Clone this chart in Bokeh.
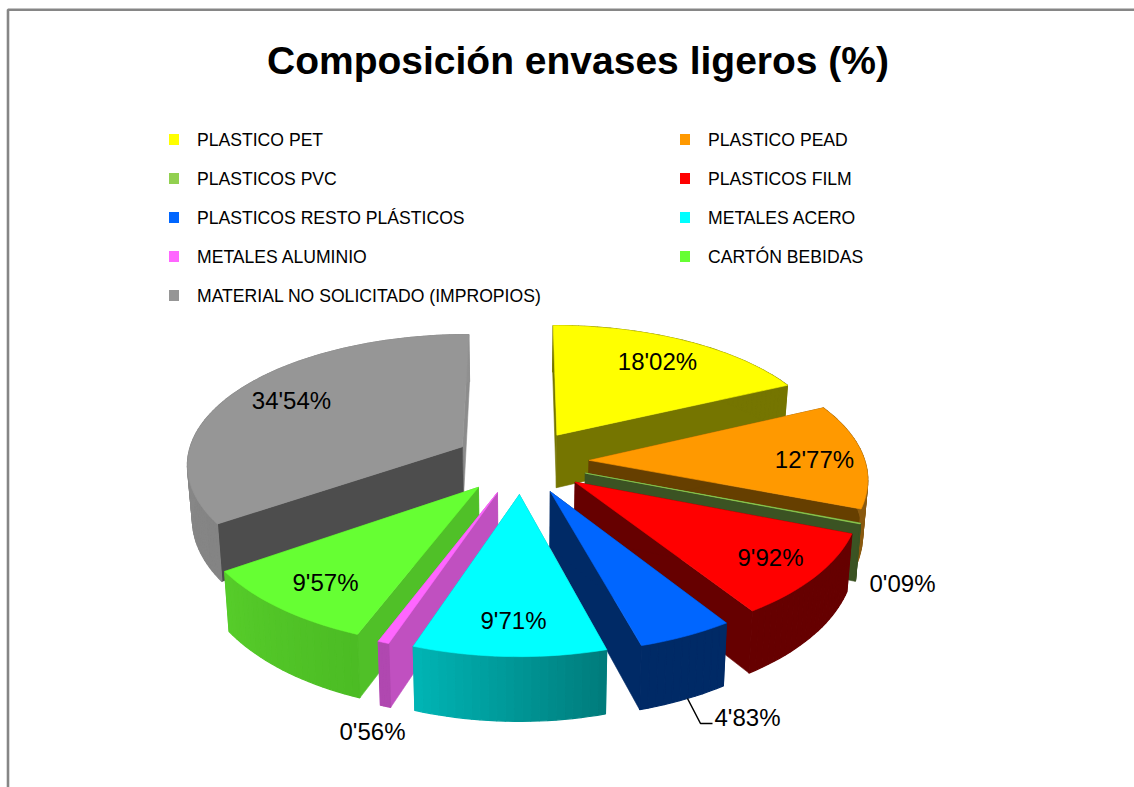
from math import radians, sin, cos
from bokeh.plotting import figure
from bokeh.embed import file_html
from bokeh.resources import INLINE
from bokeh.core.properties import value

TITLE = "Composición envases ligeros (%)"
CATEGORIES = ["PLASTICO PET", "PLASTICO PEAD", "PLASTICOS PVC", "PLASTICOS FILM",
              "PLASTICOS RESTO PLÁSTICOS", "METALES ACERO", "METALES ALUMINIO",
              "CARTÓN BEBIDAS", "MATERIAL NO SOLICITADO (IMPROPIOS)"]
VALUES = [18.02, 12.77, 0.09, 9.92, 4.83, 9.71, 0.56, 9.57, 34.54]
LABELS = ["18'02%", "12'77%", "0'09%", "9'92%", "4'83%", "9'71%", "0'56%", "9'57%", "34'54%"]

TOP_COLORS = ["#ffff00", "#ff9900", "#92d050", "#ff0000", "#0066ff", "#00ffff", "#ff66ff", "#66ff33", "#969696"]
CUT_COLORS = ["#757500", "#663f00", "#3b5323", "#660000", "#002a66", "#00a0a0", "#c050c0", "#50c028", "#4d4d4d"]
CUT_END_COLORS = ["#757500", "#663f00", "#3b5323", "#660000", "#002a66", "#00a0a0", "#c050c0", "#50c028", "#8c8c8c"]
RIM_LEFT = ["#757500", "#8a5a10", "#3b5323", "#660000", "#002a66", "#00b4b4", "#b048b0", "#56cc2a", "#909090"]
RIM_RIGHT = ["#757500", "#8a5a10", "#3b5323", "#660000", "#002a66", "#007c7c", "#b048b0", "#4cbc24", "#848484"]

LABEL_X = [657, 814, 902, 770, 747, 513, 372, 325, 291]
LABEL_Y = [361, 459, 583, 557, 717, 620, 731, 582, 400]
DRAW_ORDER = [0, 8, 1, 2, 3, 4, 7, 6, 5]

# projection of the exploded 3-D pie
CX, CY, A, B, K, KX, EXPLODE, DEPTH, TAPER = 521, 461, 276, 130.8, 0.133, 0.12, 0.245, 54, 0.985


def project(th, r, mid, low=False):
    X = r * sin(th) + EXPLODE * sin(mid)
    V = r * cos(th) + EXPLODE * cos(mid)
    p = 1 / (1 + K * V)
    dx = A * X / (1 + KX * V)
    y = CY - B * V * p
    if low:
        return CX + dx * TAPER, y + DEPTH * p
    return CX + dx, y


p = figure(width=1134, height=787, x_range=(0, 1134), y_range=(787, 0),
           output_backend="svg", toolbar_location=None, min_border=0,
           outline_line_color=None, background_fill_color="white")
p.axis.visible = False
p.xgrid.visible = False
p.ygrid.visible = False

# frame
p.line([7.5, 7.5, 1134], [787, 9.3, 9.3], line_color="#868686", line_width=2.6)

total = sum(VALUES)
starts, acc = [], 0.0
for v in VALUES:
    starts.append(acc)
    acc += v


def lerp(c1, c2, t):
    a = [int(c1[i:i + 2], 16) for i in (1, 3, 5)]
    b = [int(c2[i:i + 2], 16) for i in (1, 3, 5)]
    return "#%02x%02x%02x" % tuple(round(x + (y - x) * t) for x, y in zip(a, b))


def poly(xs, ys, c, lw=0.6):
    p.patch(xs, ys, fill_color=c, line_color=c, line_width=lw)


for i in DRAW_ORDER:
    a0 = radians(starts[i] / total * 360)
    a1 = radians((starts[i] + VALUES[i]) / total * 360)
    mid = (a0 + a1) / 2
    n = max(3, int((a1 - a0) / radians(1.5)))
    ths = [a0 + (a1 - a0) * j / n for j in range(n + 1)]
    top = [project(t, 1, mid) for t in ths]
    low = [project(t, 1, mid, True) for t in ths]
    at, ab = project(0, 0, mid), project(0, 0, mid, True)
    # cut faces
    for pts_t, pts_b, col in [(top[-1], low[-1], CUT_END_COLORS[i]), (top[0], low[0], CUT_COLORS[i])]:
        poly([at[0], pts_t[0], pts_b[0], ab[0]], [at[1], pts_t[1], pts_b[1], ab[1]], col)
    # outer wall, shaded strip by strip
    for j in range(n):
        t = j / max(1, n - 1)
        shade = lerp(RIM_RIGHT[i], RIM_LEFT[i], t)
        poly([top[j][0], top[j + 1][0], low[j + 1][0], low[j][0]],
             [top[j][1], top[j + 1][1], low[j + 1][1], low[j][1]], shade, 1.2)
    # top face
    poly([at[0]] + [q[0] for q in top], [at[1]] + [q[1] for q in top], TOP_COLORS[i])

# leader line of the small slice
p.line([687, 700, 712], [698, 723, 723], line_color="black", line_width=1.5)

# title
p.text([577.5], [60], text=[TITLE], text_align="center", text_baseline="middle",
       text_font=value("Liberation Sans"), text_font_style="bold", text_font_size="39px", text_color="black")

# data labels
p.text(LABEL_X, LABEL_Y, text=LABELS, text_align="center", text_baseline="middle",
       text_font=value("Liberation Sans"), text_font_size="24px", text_color="black")

# legend
for i, name in enumerate(CATEGORIES):
    col, row = i % 2, i // 2
    sx = 173.5 + col * 511
    tx = 196.5 + col * 511
    y = 139 + row * 39
    p.rect([sx], [y], width=10, height=11, fill_color=TOP_COLORS[i], line_color=None)
    p.text([tx], [y], text=[name], text_align="left", text_baseline="middle",
           text_font=value("Liberation Sans"), text_font_size="17.6px", text_color="black")

open("out.html", "w").write(file_html(p, INLINE))
